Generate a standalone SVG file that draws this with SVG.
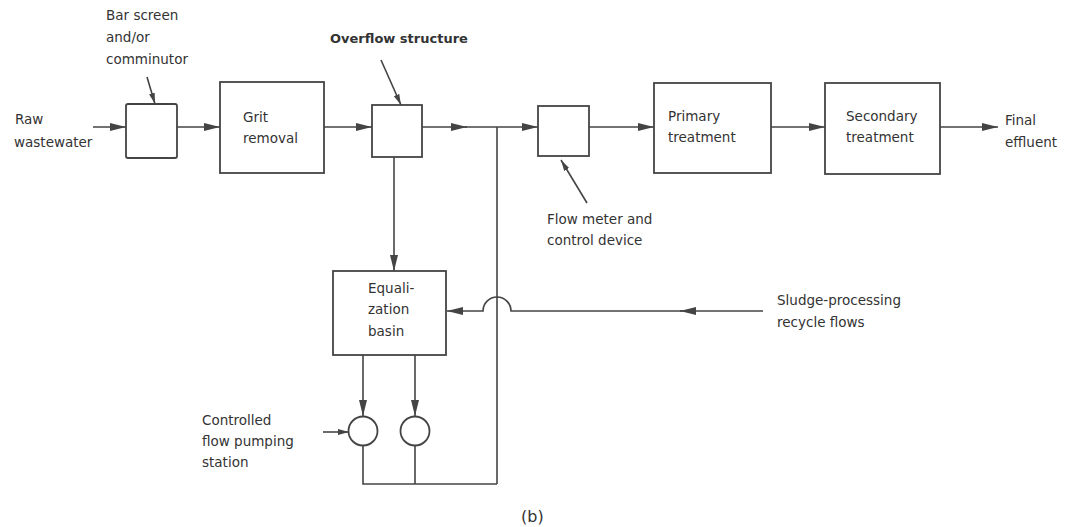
<svg xmlns="http://www.w3.org/2000/svg" width="1066" height="527" viewBox="0 0 1066 527">
<defs>
<style>
.box{fill:#fff;stroke:#444;stroke-width:1.8}
.ln{fill:none;stroke:#444;stroke-width:1.6}
.t{font-family:"DejaVu Sans",sans-serif;font-size:13.5px;fill:#333}
.tb{font-weight:bold;font-size:13px}
.cap{font-size:16px}
</style>
<marker id="ah" markerUnits="userSpaceOnUse" markerWidth="18" markerHeight="10" refX="16" refY="5" orient="auto">
<path d="M0,1 L16,5 L0,9 z" fill="#444"/>
</marker>
<marker id="ahs" markerUnits="userSpaceOnUse" markerWidth="12" markerHeight="7" refX="11" refY="3.5" orient="auto">
<path d="M0,0.6 L11,3.5 L0,6.4 z" fill="#444"/>
</marker>
</defs>
<rect width="1066" height="527" fill="#fff"/>

<g id="connectors">
<line class="ln" x1="93" y1="127" x2="126" y2="127" marker-end="url(#ah)"/>
<line class="ln" x1="177" y1="127" x2="220" y2="127" marker-end="url(#ah)"/>
<line class="ln" x1="324" y1="127" x2="372" y2="127" marker-end="url(#ah)"/>
<line class="ln" x1="422" y1="127" x2="467" y2="127" marker-end="url(#ah)"/>
<line class="ln" x1="465" y1="127" x2="538" y2="127" marker-end="url(#ah)"/>
<line class="ln" x1="589" y1="127" x2="654" y2="127" marker-end="url(#ah)"/>
<line class="ln" x1="771" y1="127" x2="825" y2="127" marker-end="url(#ah)"/>
<line class="ln" x1="940" y1="127" x2="998" y2="127" marker-end="url(#ah)"/>
<line class="ln" x1="147" y1="77" x2="155" y2="104" marker-end="url(#ahs)"/>
<line class="ln" x1="381" y1="60" x2="401" y2="105" marker-end="url(#ahs)"/>
<line class="ln" x1="587" y1="203" x2="561" y2="160" marker-end="url(#ahs)"/>
<line class="ln" x1="394" y1="157" x2="394" y2="271" marker-end="url(#ah)"/>
<line class="ln" x1="497" y1="127" x2="497" y2="484"/>
<line class="ln" x1="763" y1="311" x2="680" y2="311" marker-end="url(#ah)"/>
<path class="ln" d="M682,311 L511,311 A14,14 0 0 0 483,311 L447,311" marker-end="url(#ah)"/>
<line class="ln" x1="363" y1="355" x2="363" y2="416" marker-end="url(#ah)"/>
<line class="ln" x1="415" y1="355" x2="415" y2="416" marker-end="url(#ah)"/>
<path class="ln" d="M363,445 L363,484 L497,484 M415,445 L415,484"/>
<line class="ln" x1="323" y1="432" x2="349" y2="432" marker-end="url(#ahs)"/>
</g>

<g id="raw"><text class="t" x="15" y="124">Raw</text><text class="t" x="14" y="147">wastewater</text></g>
<g id="bar-screen">
<rect class="box" x="126" y="104" width="51" height="54" rx="2"/>
<text class="t" x="106" y="20">Bar screen</text><text class="t" x="106" y="42">and/or</text><text class="t" x="106" y="64">comminutor</text>
</g>
<g id="grit"><rect class="box" x="220" y="82" width="104" height="91"/><text class="t" x="243" y="122">Grit</text><text class="t" x="243" y="143">removal</text></g>
<g id="overflow"><rect class="box" x="372" y="105" width="50" height="52"/><text class="t tb" x="330" y="43">Overflow structure</text></g>
<g id="flow-meter"><rect class="box" x="538" y="106" width="51" height="50"/><text class="t" x="547" y="224">Flow meter and</text><text class="t" x="547" y="245">control device</text></g>
<g id="primary"><rect class="box" x="654" y="83" width="117" height="90"/><text class="t" x="668" y="121">Primary</text><text class="t" x="668" y="142">treatment</text></g>
<g id="secondary"><rect class="box" x="825" y="83" width="115" height="91"/><text class="t" x="846" y="121">Secondary</text><text class="t" x="846" y="142">treatment</text></g>
<g id="final"><text class="t" x="1005" y="125">Final</text><text class="t" x="1005" y="147">effluent</text></g>
<g id="equalization"><rect class="box" x="333" y="271" width="113" height="84"/><text class="t" x="368" y="293">Equali-</text><text class="t" x="368" y="314">zation</text><text class="t" x="368" y="336">basin</text></g>
<g id="sludge"><text class="t" x="777" y="305">Sludge-processing</text><text class="t" x="777" y="327">recycle flows</text></g>
<g id="pump1"><circle class="box" cx="363" cy="431" r="14.5"/></g>
<g id="pump2"><circle class="box" cx="415" cy="431" r="14.5"/></g>
<g id="pumping-label"><text class="t" x="202" y="425">Controlled</text><text class="t" x="202" y="446">flow pumping</text><text class="t" x="202" y="467">station</text></g>
<g id="caption"><text class="t cap" x="521" y="522">(b)</text></g>
</svg>
